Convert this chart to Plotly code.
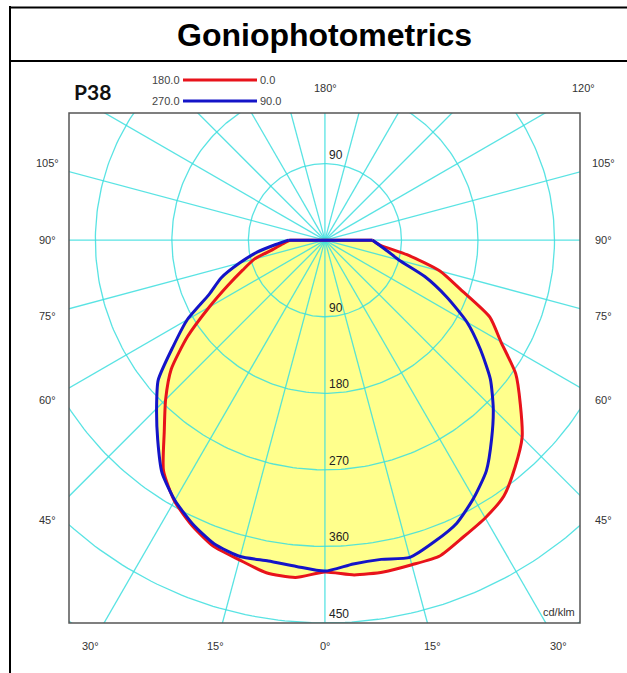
import numpy as np
import plotly.graph_objects as go

# ---------------- data (cd/klm) ----------------
gamma = [0, 5, 10, 15, 20, 25, 30, 35, 40, 45, 50, 55, 60, 65, 70, 75, 80, 85, 90]
red_c0 = [390, 395, 396, 395, 395, 385, 377, 367, 348, 328, 300, 274, 239, 214, 170, 140, 98, 65, 56]
red_c180 = [390, 398, 397, 389, 383, 370, 354, 331, 294, 265, 236, 197, 157, 126, 103, 86, 62, 50, 41]
blue_c90 = [388, 382, 381, 386, 377, 367, 350, 331, 305, 280, 254, 223, 193, 158, 125, 90, 75, 64, 56]
blue_c270 = [389, 385, 383, 385, 380, 368, 353, 334, 306, 280, 256, 218, 187, 150, 130, 104, 81, 58, 43]

radial_ticks = [90, 180, 270, 360, 450]
radial_labels = ["90", "180", "270", "360", "450"]
side_labels = ["105°", "90°", "75°", "60°", "45°"]
bottom_labels = ["30°", "15°", "0°", "15°", "30°"]
top_labels = ["180°", "120°"]
legend_left = ["180.0", "270.0"]
legend_right = ["0.0", "90.0"]

# ---------------- layout geometry (pixels) ----------------
W, H = 627, 673
L, R, T, B = 69, 580, 113, 623


def px(x):
    return (x - L) / (R - L)


def py(y):
    return (B - y) / (B - T)


def outline(left, right):
    g = np.radians(gamma)
    lv = np.array(left, dtype=float)
    rv = np.array(right, dtype=float)
    xl = -lv * np.sin(g)
    yl = -lv * np.cos(g)
    xr = rv * np.sin(g)
    yr = -rv * np.cos(g)
    x = list(xl[::-1]) + list(xr[1:])
    y = list(yl[::-1]) + list(yr[1:])
    return x, y


fig = go.Figure()

rx, ry = outline(red_c180, red_c0)
bx, by = outline(blue_c270, blue_c90)

YELLOW = "#FFFF8C"
SMOOTH = 0.6
for xs, ys in [(rx, ry), (bx, by)]:
    fig.add_trace(go.Scatter(x=xs, y=ys, mode="lines", fill="toself", fillcolor=YELLOW,
                             line=dict(width=0, color=YELLOW, shape="spline", smoothing=SMOOTH),
                             hoverinfo="skip", showlegend=False))

# grid circles
GRID = "rgba(60,222,222,0.85)"
t = np.linspace(0, 2 * np.pi, 361)
cx, cy = [], []
for r in [90, 180, 270, 360, 450, 540, 630]:
    cx += list(r * np.cos(t)) + [None]
    cy += list(r * np.sin(t)) + [None]
fig.add_trace(go.Scatter(x=cx, y=cy, mode="lines", line=dict(color=GRID, width=1.3),
                         hoverinfo="skip", showlegend=False))
# rays every 15 degrees
sx, sy = [], []
for a in range(0, 360, 15):
    ar = np.radians(a)
    sx += [0, 800 * np.cos(ar), None]
    sy += [0, 800 * np.sin(ar), None]
fig.add_trace(go.Scatter(x=sx, y=sy, mode="lines", line=dict(color=GRID, width=1.3),
                         hoverinfo="skip", showlegend=False))

RED = "#E8131B"
BLUE = "#1414C8"
for xs, ys, col in [(rx, ry, RED), (bx, by, BLUE)]:
    fig.add_trace(go.Scatter(x=xs, y=ys, mode="lines",
                             line=dict(color=col, width=3, shape="spline", smoothing=SMOOTH),
                             hoverinfo="skip", showlegend=False))
    fig.add_trace(go.Scatter(x=[xs[0], 0, xs[-1]], y=[0, 0, 0], mode="lines",
                             line=dict(color=col, width=3),
                             hoverinfo="skip", showlegend=False))

FONT = "Liberation Sans, Arial, sans-serif"
ann = []
# radial labels
ann.append(dict(x=2, y=radial_ticks[0], xref="x", yref="y", text=radial_labels[0],
                xanchor="left", yanchor="bottom", showarrow=False,
                font=dict(family=FONT, size=12, color="#222")))
for r, lab in zip(radial_ticks, radial_labels):
    ann.append(dict(x=2, y=-r, xref="x", yref="y", text=lab, xanchor="left", yanchor="bottom",
                    showarrow=False, font=dict(family=FONT, size=12, color="#222")))

side_y = [163, 240, 316, 400, 520]
for lab, yy in zip(side_labels, side_y):
    ann.append(dict(x=px(47), y=py(yy), xref="paper", yref="paper", text=lab, showarrow=False,
                    xanchor="center", yanchor="middle", font=dict(family=FONT, size=11, color="#333")))
    ann.append(dict(x=px(603), y=py(yy), xref="paper", yref="paper", text=lab, showarrow=False,
                    xanchor="center", yanchor="middle", font=dict(family=FONT, size=11, color="#333")))
bottom_x = [90, 215, 325, 432, 558]
for lab, xx in zip(bottom_labels, bottom_x):
    ann.append(dict(x=px(xx), y=py(646), xref="paper", yref="paper", text=lab, showarrow=False,
                    xanchor="center", yanchor="middle", font=dict(family=FONT, size=11, color="#333")))
for lab, xx in zip(top_labels, [325, 583]):
    ann.append(dict(x=px(xx), y=py(88), xref="paper", yref="paper", text=lab, showarrow=False,
                    xanchor="center", yanchor="middle", font=dict(family=FONT, size=11, color="#333")))

ann.append(dict(x=px(577), y=py(612), xref="paper", yref="paper", text="cd/klm", showarrow=False,
                xanchor="right", yanchor="middle", font=dict(family=FONT, size=11, color="#333")))

# legend texts
for lab, yy in zip(legend_left, [80, 101]):
    ann.append(dict(x=px(182), y=py(yy), xref="paper", yref="paper", text=lab, showarrow=False,
                    xanchor="right", yanchor="middle", font=dict(family=FONT, size=11, color="#444")))
for lab, yy in zip(legend_right, [80, 101]):
    ann.append(dict(x=px(258), y=py(yy), xref="paper", yref="paper", text=lab, showarrow=False,
                    xanchor="left", yanchor="middle", font=dict(family=FONT, size=11, color="#444")))

ann.append(dict(x=px(92), y=py(92), xref="paper", yref="paper", text="<b>P38</b>", showarrow=False,
                xanchor="center", yanchor="middle",
                font=dict(family="Lato, Liberation Sans, sans-serif", size=21, color="#111")))
ann.append(dict(x=px(324), y=py(35), xref="paper", yref="paper", text="<b>Goniophotometrics</b>",
                showarrow=False, xanchor="center", yanchor="middle",
                font=dict(family=FONT, size=32, color="#000")))

shapes = [
    dict(type="rect", xref="paper", yref="paper", x0=0, y0=0, x1=1, y1=1,
         line=dict(color="#555", width=1.5), layer="above"),
    dict(type="line", xref="paper", yref="paper", x0=px(183), x1=px(257), y0=py(80), y1=py(80),
         line=dict(color=RED, width=3)),
    dict(type="line", xref="paper", yref="paper", x0=px(183), x1=px(257), y0=py(101), y1=py(101),
         line=dict(color=BLUE, width=3)),
    dict(type="line", xref="paper", yref="paper", x0=px(10), x1=px(10), y0=py(6), y1=py(700),
         line=dict(color="#000", width=2)),
    dict(type="line", xref="paper", yref="paper", x0=px(9), x1=px(700), y0=py(7.5), y1=py(7.5),
         line=dict(color="#000", width=2)),
    dict(type="line", xref="paper", yref="paper", x0=px(9), x1=px(700), y0=py(61), y1=py(61),
         line=dict(color="#000", width=2)),
]

fig.update_layout(
    width=W, height=H, autosize=False,
    margin=dict(l=L, r=W - R, t=T, b=H - B, pad=0),
    paper_bgcolor="white", plot_bgcolor="white",
    xaxis=dict(range=[-301, 300], visible=False, fixedrange=True),
    yaxis=dict(range=[-450, 149.5], visible=False, fixedrange=True),
    annotations=ann, shapes=shapes, showlegend=False,
)

fig.write_html("out.html", config={"displayModeBar": False, "staticPlot": True},
               post_script="document.body.style.margin='0px';document.body.style.overflow='hidden';")
